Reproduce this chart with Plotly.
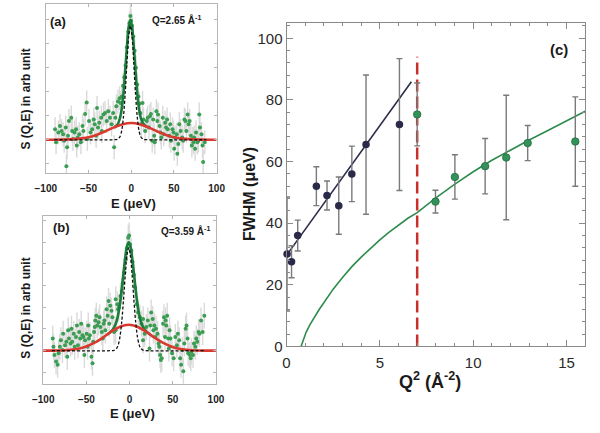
import plotly.graph_objects as go

# ---------------- Panel (a): Q = 2.65 1/A ----------------
A_E = [-89.1, -88.0, -85.3, -83.4, -81.5, -79.7, -78.5, -76.6, -75.9, -75.1, -74.0, -72.9, -70.2, -69.1,
       -68.3, -66.4, -64.5, -63.8, -62.7, -60.8, -58.9, -57.0, -55.9, -54.0, -52.1, -51.3, -49.4, -47.6,
       -45.7, -43.8, -42.7, -41.1, -40.0, -38.9, -37.4, -35.1, -34.4, -32.5, -30.6, -28.7, -26.8, -24.9,
       -23.0, -21.1, -20.0, -18.5, -17.4, -15.5, -13.6, -12.5,
       -11.0, -9.5, -8.0, -6.5, -5.0, -3.5, -2.0, -1.0, 0.0, 1.0, 2.5, 4.0, 5.5, 7.0, 8.5, 9.5,
       10.6, 11.7, 13.3, 14.4, 16.3, 18.2, 19.3, 20.8, 21.9, 23.1, 24.6, 25.7, 26.9, 27.6, 29.5, 30.6,
       31.4, 33.3, 34.4, 35.2, 37.0, 38.2, 39.7, 40.8, 42.0, 42.7, 44.6, 45.7, 46.5, 48.4, 49.5, 50.3,
       51.4, 53.3, 54.0, 55.2, 56.3, 57.8, 59.7, 60.8, 62.3, 63.5, 64.6, 66.1, 67.2, 68.4, 69.9, 71.0,
       72.1, 72.9, 73.7, 74.8, 75.9, 77.4, 78.6, 79.7, 80.5, 82.3, 83.5, 84.2, 86.1]
A_S = [0.087, -0.022, 0.060, 0.114, 0.073, 0.046, -0.008, 0.101, -0.221, -0.063, 0.033, 0.155, 0.182, 0.073,
       0.005, 0.060, 0.087, -0.049, 0.019, 0.046, -0.022, 0.114, 0.073, 0.215, 0.310, 0.005, 0.155, 0.060,
       0.087, 0.169, 0.128, 0.033, 0.264, 0.101, 0.142, 0.182, 0.073, 0.210, 0.223, 0.155, 0.237, 0.182,
       0.128, 0.223, -0.063, 0.182, 0.278, 0.319, 0.346, 0.305,
       0.36, 0.45, 0.52, 0.62, 0.77, 0.90, 0.97, 1.03, 0.99, 0.95, 0.86, 0.74, 0.60, 0.46, 0.36, 0.30,
       0.223, 0.128, 0.305, 0.169, 0.073, 0.155, 0.182, 0.101, 0.196, 0.215, -0.008, 0.169, 0.033, -0.022,
       0.237, 0.155, 0.210, 0.114, 0.060, 0.019, 0.182, 0.046, 0.142, 0.101, 0.169, 0.087, 0.033, 0.128,
       -0.008, 0.087, 0.060, -0.076, 0.019, 0.046, -0.117, -0.036, 0.128, 0.073, 0.019, -0.008, 0.169,
       0.155, 0.073, 0.210, 0.128, 0.155, 0.033, -0.049, 0.005, -0.022, 0.019, -0.076, 0.060, -0.022,
       -0.008, 0.210, 0.101, 0.046, -0.049, -0.185, -0.022]
A_ERR = 0.10

A_RED_E = [-100, -80, -60, -50, -40, -30, -20, -10, 0, 10, 20, 30, 40, 50, 60, 80, 100]
A_RED_S = [0.0, 0.001, 0.009, 0.021, 0.042, 0.071, 0.103, 0.129, 0.139, 0.129, 0.103, 0.071, 0.042, 0.021, 0.009, 0.001, 0.0]

A_DASH_E = [-90, -20, -16, -13, -11, -9, -7, -5, -3, -1, 1, 3, 5, 7, 9, 11, 14, 18, 88]
A_DASH_S = [0.0, 0.0, 0.004, 0.027, 0.080, 0.196, 0.39, 0.64, 0.86, 0.95, 0.86, 0.64, 0.39, 0.196, 0.080, 0.027, 0.004, 0.0, 0.0]

A_GRN_E = [-20, -16, -13, -11, -9, -7, -5, -3, -1, 1, 3, 5, 7, 9, 11, 14, 18]
A_GRN_S = [0.104, 0.127, 0.184, 0.262, 0.394, 0.576, 0.776, 0.937, 0.999, 0.938, 0.778, 0.578, 0.397, 0.266, 0.187, 0.134, 0.109]

# ---------------- Panel (b): Q = 3.59 1/A ----------------
B_E = [-88.9, -88.1, -87.0, -85.1, -83.3, -82.1, -80.7, -79.5, -77.7, -76.9, -74.7, -73.2, -72.1, -71.0,
       -70.2, -68.3, -67.2, -66.5, -64.6, -63.5, -62.0, -60.9, -59.7, -58.3, -57.1, -56.0, -54.5, -53.4,
       -52.3, -51.5, -49.7, -48.6, -47.8, -47.1, -45.9, -44.1, -42.9, -42.2, -41.1, -40.3, -39.6, -38.5,
       -37.4, -35.9, -34.7, -33.6, -32.1, -31.0, -29.9, -29.1, -28.0, -26.5, -25.4, -24.3, -23.5, -22.4,
       -20.9, -19.8, -17.9, -16.1, -16.0, -14.2, -13.3, -12.3, -10.5,
       -9.0, -7.5, -6.0, -4.5, -3.0, -1.5, -0.5, 0.5, 2.0, 3.5, 5.0, 6.5,
       8.2, 10.0, 11.9, 13.8, 15.6, 15.7, 17.5, 19.4, 21.2, 23.1, 23.9, 25.0, 26.8, 27.6, 28.7, 29.8,
       30.6, 32.4, 33.6, 34.3, 35.4, 36.2, 37.3, 38.8, 39.9, 41.0, 41.8, 42.5, 43.6, 44.8, 45.5, 46.3,
       47.4, 49.2, 51.1, 53.0, 54.8, 56.0, 57.5, 58.6, 59.7, 61.2, 62.3, 63.4, 64.9, 66.0, 67.2, 67.9,
       69.8, 70.9, 71.6, 73.5, 74.6, 76.1, 77.2, 78.4, 79.9, 81.0, 82.8, 84.7, 86.6]
B_S = [0.111, 0.036, -0.040, -0.100, -0.130, -0.024, 0.036, 0.096, 0.006, 0.156, 0.051, 0.081, -0.055, 0.187,
       0.111, 0.066, 0.202, 0.081, 0.156, 0.036, 0.126, 0.232, 0.051, 0.171, 0.111, 0.247, 0.141, 0.126,
       -0.040, 0.096, 0.156, 0.036, 0.232, 0.111, 0.141, -0.055, -0.115, 0.081, 0.171, 0.217, 0.277, 0.322,
       0.232, 0.262, 0.307, 0.217, 0.171, 0.111, 0.247, 0.277, 0.187, 0.382, 0.322, 0.458, 0.247, 0.413,
       0.367, 0.307, 0.171, 0.187, 0.473, 0.428, 0.382, 0.398, 0.503,
       0.55, 0.62, 0.72, 0.84, 0.94, 1.04, 1.06, 0.98, 0.92, 0.82, 0.70, 0.58,
       0.428, 0.352, 0.307, 0.247, 0.096, 0.292, 0.156, 0.217, 0.277, 0.021, 0.232, 0.352, 0.292, 0.187,
       0.232, 0.126, 0.202, 0.156, 0.066, 0.036, -0.040, -0.085, -0.070, 0.247, 0.307, 0.126, 0.277, 0.232,
       0.322, 0.111, 0.021, 0.187, 0.111, -0.024, -0.070, 0.126, 0.051, 0.156, 0.096, -0.070, -0.130, 0.006,
       -0.190, 0.066, 0.202, 0.232, 0.111, -0.024, -0.040, -0.070, -0.009, -0.040, 0.066, 0.036, 0.111,
       0.081, 0.171, 0.156, 0.277, 0.171, 0.322]
B_ERR = 0.12

B_RED_E = [-101, -81, -71, -61, -51, -41, -31, -21, -11, -1, 9, 19, 29, 39, 49, 59, 69, 79, 100]
B_RED_S = [0.0, 0.002, 0.006, 0.016, 0.036, 0.071, 0.120, 0.176, 0.221, 0.238, 0.221, 0.176, 0.120, 0.071, 0.036, 0.016, 0.006, 0.002, 0.0]

B_DASH_E = [-90, -21, -18, -15, -13, -11, -9, -7, -5, -3, -1, 1, 3, 5, 7, 9, 11, 13, 16, 19, 88]
B_DASH_S = [0.0, 0.0, 0.003, 0.020, 0.056, 0.134, 0.271, 0.469, 0.694, 0.879, 0.95, 0.879, 0.694, 0.469, 0.271, 0.134, 0.056, 0.020, 0.003, 0.0, 0.0]

B_GRN_E = [-26, -22, -18, -15, -13, -11, -9, -7, -5, -3, -1, 1, 3, 5, 7, 9, 11, 13, 16, 20, 24]
B_GRN_S = [0.148, 0.173, 0.212, 0.271, 0.339, 0.439, 0.569, 0.717, 0.857, 0.960, 0.998, 0.960, 0.857, 0.717, 0.569, 0.439, 0.339, 0.271, 0.212, 0.173, 0.148]

# ---------------- Panel (c): FWHM vs Q^2 ----------------
C_BLUE_Q2 = [0.03, 0.27, 0.6, 1.6, 2.17, 2.8, 3.5, 4.26, 6.05]
C_BLUE_FWHM = [30.0, 27.5, 36.0, 52.0, 49.0, 45.7, 56.0, 65.5, 72.0]
C_BLUE_ERR = [18.5, 5.2, 5.0, 6.3, 4.7, 9.3, 9.0, 22.6, 21.4]

C_GREEN_Q2 = [7.0, 7.98, 9.02, 10.64, 11.77, 12.92, 15.47]
C_GREEN_FWHM = [75.3, 47.0, 55.0, 58.5, 61.3, 66.0, 66.5]
C_GREEN_ERR = [10.2, 3.7, 7.2, 9.0, 20.2, 5.7, 14.5]

C_LINFIT_Q2 = [0.03, 6.69]
C_LINFIT_FWHM = [29.8, 85.9]

C_CURVE_Q2 = [0.78, 0.9, 1.05, 1.25, 1.5, 1.75, 2.0, 2.5, 3.0, 3.5, 4.0, 4.5, 5.0, 5.5, 6.0, 6.5, 7.0,
              8.0, 9.0, 10.0, 11.0, 12.0, 13.0, 14.0, 15.0, 16.0]
C_CURVE_FWHM = [0.0, 2.4, 4.6, 7.0, 9.6, 12.0, 14.2, 18.6, 22.4, 25.9, 29.0, 31.9, 34.6, 37.1, 39.4,
                41.6, 43.4, 48.2, 52.6, 56.7, 60.4, 63.8, 67.0, 70.1, 73.2, 76.3]

C_VLINE_Q2 = [7.0, 7.0]
C_VLINE_FWHM = [0.0, 94.0]

FONT = "Liberation Sans"
GREEN_DOT = "#3a9d52"
GREEN_LINE = "#1b7d3a"
RED = "#d93a30"

fig = go.Figure()


def add_spectrum(xa, ya, E, S, err, gE, gS, rE, rS, dE, dS):
    fig.add_trace(go.Scatter(
        x=E, y=S, mode="markers", xaxis=xa, yaxis=ya,
        marker=dict(size=4, color=GREEN_DOT),
        error_y=dict(type="constant", value=err, color="#dadada", thickness=1.4, width=0),
        hoverinfo="skip"))
    fig.add_trace(go.Scatter(x=gE, y=gS, mode="lines", xaxis=xa, yaxis=ya,
                             line=dict(color=GREEN_LINE, width=2.6, shape="spline", smoothing=1.0)))
    fig.add_trace(go.Scatter(x=rE, y=rS, mode="lines", xaxis=xa, yaxis=ya,
                             line=dict(color=RED, width=2.6, shape="spline", smoothing=1.0)))
    fig.add_trace(go.Scatter(x=dE, y=dS, mode="lines", xaxis=xa, yaxis=ya,
                             line=dict(color="#111111", width=1.3, dash="3px,2px", shape="spline", smoothing=0.8)))


add_spectrum("x", "y", A_E, A_S, A_ERR, A_GRN_E, A_GRN_S, A_RED_E, A_RED_S, A_DASH_E, A_DASH_S)
add_spectrum("x2", "y2", B_E, B_S, B_ERR, B_GRN_E, B_GRN_S, B_RED_E, B_RED_S, B_DASH_E, B_DASH_S)

# panel c
fig.add_trace(go.Scatter(x=C_CURVE_Q2, y=C_CURVE_FWHM, mode="lines", xaxis="x3", yaxis="y3",
                         line=dict(color="#2e8b4e", width=1.6)))
fig.add_trace(go.Scatter(x=C_LINFIT_Q2, y=C_LINFIT_FWHM, mode="lines", xaxis="x3", yaxis="y3",
                         line=dict(color="#2c2c4c", width=1.6)))
fig.add_trace(go.Scatter(x=C_VLINE_Q2, y=C_VLINE_FWHM, mode="lines", xaxis="x3", yaxis="y3",
                         line=dict(color="#c9302c", width=2.5, dash="12px,5px")))
fig.add_trace(go.Scatter(x=C_BLUE_Q2, y=C_BLUE_FWHM, mode="markers", xaxis="x3", yaxis="y3",
                         cliponaxis=False,
                         marker=dict(size=7.5, color="#2a2a48"),
                         error_y=dict(type="data", array=C_BLUE_ERR, color="#7a7a7a", thickness=1.4, width=3)))
fig.add_trace(go.Scatter(x=C_GREEN_Q2, y=C_GREEN_FWHM, mode="markers", xaxis="x3", yaxis="y3",
                         cliponaxis=False,
                         marker=dict(size=7.5, color="#33925a", line=dict(color="#246b40", width=0.8)),
                         error_y=dict(type="data", array=C_GREEN_ERR, color="#7a7a7a", thickness=1.4, width=3)))

frame_ab = dict(showline=True, mirror="ticks", linecolor="#b5b5b5", linewidth=1, showgrid=False,
                zeroline=False, ticks="inside", tickcolor="#b5b5b5", ticklen=3)
tickfont_ab = dict(family=FONT, size=10, color="#222222", weight="bold")

frame_c = dict(showline=True, mirror="allticks", linecolor="#8a8a8a", linewidth=1, showgrid=False,
               zeroline=False, ticks="inside", tickcolor="#8a8a8a", ticklen=6,
               tickfont=dict(family=FONT, size=15, color="#2a2a2a"))

fig.update_layout(
    width=600, height=433, margin=dict(l=0, r=0, t=0, b=0),
    paper_bgcolor="white", plot_bgcolor="white", showlegend=False,
    xaxis=dict(domain=[0.06, 0.3545], range=[-100, 100], anchor="y",
               tickvals=[-100, -50, 0, 50, 100], tickfont=tickfont_ab, ticklabelstandoff=6, **frame_ab),
    yaxis=dict(domain=[0.5919, 0.9908], range=[-0.281, 1.131], anchor="x",
               showticklabels=False, dtick=0.2, **frame_ab),
    xaxis2=dict(domain=[0.0555, 0.3533], range=[-100, 100], anchor="y2",
                tickvals=[-100, -50, 0, 50, 100], tickfont=tickfont_ab, ticklabelstandoff=6, **frame_ab),
    yaxis2=dict(domain=[0.0970, 0.4919], range=[-0.305, 1.241], anchor="x2",
                showticklabels=False, dtick=0.2, **frame_ab),
    xaxis3=dict(domain=[0.475, 0.99], range=[0, 16], anchor="y3", dtick=5, ticklabelstandoff=3,
                minor=dict(dtick=1, ticks="inside", ticklen=3, tickcolor="#8a8a8a"), **frame_c),
    yaxis3=dict(domain=[0.1848, 0.9469], range=[0, 105.1], anchor="x3", dtick=20,
                minor=dict(dtick=4, ticks="inside", ticklen=3, tickcolor="#8a8a8a"), **frame_c),
)


def ann(text, x, y, size, angle=0, bold=True, color="#1a1a1a"):
    fig.add_annotation(text=text, x=x / 600, y=1 - y / 433, xref="paper", yref="paper",
                       showarrow=False, textangle=angle, xanchor="center", yanchor="middle",
                       font=dict(family=FONT, size=size, color=color, weight="bold" if bold else "normal"))


ann("(a)", 49, 22, 13)
ann("Q=2.65 Å<sup>-1</sup>", 171, 20, 10)
ann("(b)", 52, 232, 13)
ann("Q=3.59 Å<sup>-1</sup>", 180, 235, 10)
ann("E (μeV)", 127, 207, 13)
ann("E (μeV)", 126, 421, 13)
ann("S (Q,E) in arb unit", 16, 101, 12, angle=-90)
ann("S (Q,E) in arb unit", 16, 314, 12, angle=-90)
ann("(c)", 567, 50, 15)
ann("FWHM (μeV)", 247, 198, 16, angle=-90)
ann("Q<sup>2</sup> (Å<sup>-2</sup>)", 433, 388, 18)

fig.write_html("out.html", config={"displayModeBar": False},
               post_script="document.body.style.margin='0';")
